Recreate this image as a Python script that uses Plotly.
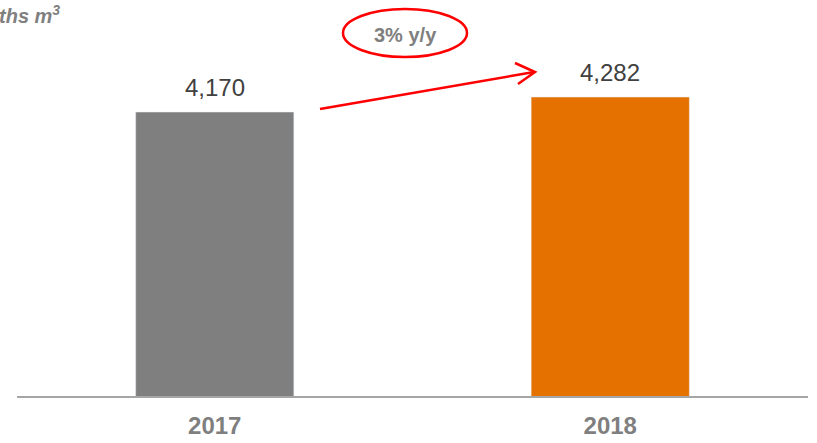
import plotly.graph_objects as go

years = ["2017", "2018"]
values = [4170, 4282]
bar_colors = ["#7f7f7f", "#e57100"]
value_labels = ["4,170", "4,282"]
unit_label = "ths m<sup>3</sup>"
growth_label = "3% y/y"
y_range = [2050, 4626]

W, H = 817, 443
ML, MR, MT, MB = 17, 9, 51, 47
PW, PH = W - ML - MR, H - MT - MB


def px(x):
    return (x - ML) / PW


def py(y):
    return (H - MB - y) / PH


FONT = "Liberation Sans, Arial, sans-serif"

fig = go.Figure(
    go.Bar(
        x=years,
        y=values,
        marker_color=bar_colors,
        width=0.4,
        hoverinfo="x+y",
    )
)

for i, (v, lab) in enumerate(zip(values, value_labels)):
    fig.add_annotation(x=i, y=v, text=lab, showarrow=False,
                       yanchor="middle", yshift=25,
                       font=dict(size=24, color="#404040", family=FONT))

red = "#ff0000"
fig.add_shape(type="line", xref="paper", yref="paper",
              x0=px(320), y0=py(109), x1=px(534), y1=py(72),
              line=dict(color=red, width=2.5))
fig.add_shape(type="path", xref="paper", yref="paper",
              path=f"M {px(515)} {py(63)} L {px(535)} {py(72)} L {px(518)} {py(84)}",
              line=dict(color=red, width=2.5))
fig.add_shape(type="circle", xref="paper", yref="paper",
              x0=px(343), x1=px(467), y0=py(57), y1=py(9),
              line=dict(color=red, width=2.5))
fig.add_annotation(xref="paper", yref="paper", x=px(405), y=py(35),
                   text=f"<b>{growth_label}</b>", showarrow=False,
                   yanchor="middle",
                   font=dict(size=20, color="#7f7f7f", family=FONT))
fig.add_annotation(xref="paper", yref="paper", x=px(62), y=py(15),
                   xanchor="right", yanchor="middle",
                   text=f"<b><i>{unit_label}</i></b>", showarrow=False,
                   font=dict(size=20, color="#7f7f7f", family=FONT))

fig.update_layout(
    width=W, height=H,
    margin=dict(l=ML, r=MR, t=MT, b=MB, pad=0, autoexpand=False),
    plot_bgcolor="white", paper_bgcolor="white",
    showlegend=False,
    xaxis=dict(
        type="category", range=[-0.5, 1.5],
        showline=True, linecolor="#a6a6a6", linewidth=2,
        showgrid=False, ticks="", automargin=False,
        tickfont=dict(size=24, color="#7f7f7f", family=FONT),
        ticklabelstandoff=7,
        tickprefix="<b>", ticksuffix="</b>",
    ),
    yaxis=dict(range=y_range, visible=False, showgrid=False, automargin=False),
)

fig.write_html(
    "out.html",
    config={"displayModeBar": False},
    post_script="document.body.style.margin='0';",
)
